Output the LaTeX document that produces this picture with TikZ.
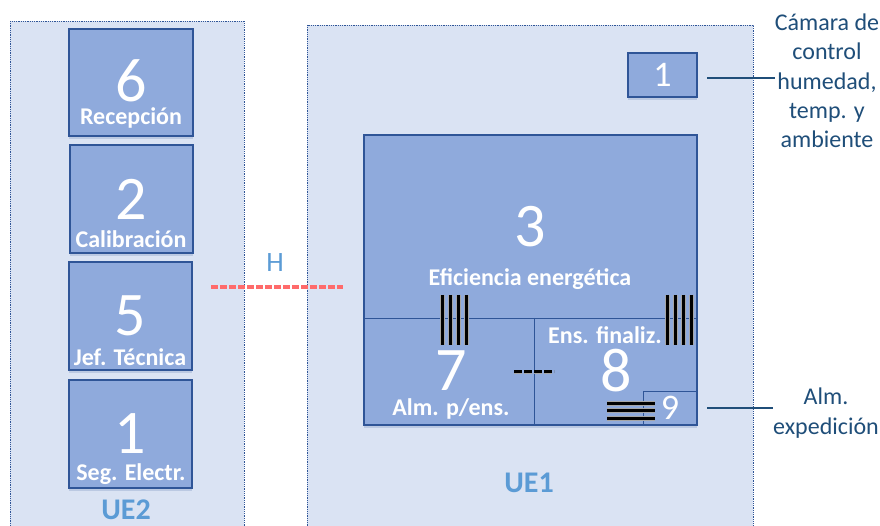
\documentclass[tikz,border=0pt]{standalone}
\usepackage{fontspec}
\setmainfont{Carlito}
\usetikzlibrary{shadows}
\definecolor{zonefill}{HTML}{DAE3F3}
\definecolor{roomfill}{HTML}{8FAADC}
\definecolor{roomline}{HTML}{2F5597}
\definecolor{notetext}{HTML}{1F4E79}
\definecolor{zonetext}{HTML}{5B9BD5}
\definecolor{wallred}{HTML}{FF6B6B}
\tikzset{
  zone/.style={draw=roomline,fill=zonefill,densely dotted,line width=0.8pt},
  room/.style={draw=roomline,fill=roomfill,line width=1.2pt,drop shadow={shadow xshift=0pt,shadow yshift=-3pt,fill=roomline,opacity=0.18}},
  roomnum/.style={text=white,inner sep=0pt,font=\fontsize{62}{62}\selectfont},
  roomname/.style={text=white,inner sep=0pt,font=\fontsize{24}{24}\selectfont\bfseries},
  zonename/.style={text=zonetext,inner sep=0pt,font=\fontsize{30}{30}\selectfont\bfseries},
  note/.style={text=notetext,align=center,inner sep=0pt,font=\fontsize{24}{29.3}\selectfont},
  bar/.style={line width=3pt,black},
  halo/.style={line width=4.6pt,black!35}
}
\begin{document}
\begin{tikzpicture}[x=1pt,y=-1pt]
  \useasboundingbox (0,0) rectangle (880,526);
  \begin{scope}
    \clip (0,0) rectangle (880,526);
    \draw [zone] (10,21) rectangle (244,540);
    \draw [zone] (307,25) rectangle (753,540);
  \end{scope}

  % left column
  \draw [room] (69,29) rectangle (193,136);
  \draw [room] (70,145) rectangle (193,253);
  \draw [room] (69,262) rectangle (192,370);
  \draw [room] (69,380) rectangle (192,488);
  \node [roomnum] (n6) at (131,81) {6};
  \node [roomname] (recep) at (131,118) {Recepción};
  \node [roomnum] (n2) at (131,199) {2};
  \node [roomname] (calib) at (131,239) {Calibración};
  \node [roomnum] (n5) at (130,316) {5};
  \node [roomname] (jef) at (130,357) {Jef. Técnica};
  \node [roomnum] (n1) at (130,434) {1};
  \node [roomname] (seg) at (131,474) {Seg. Electr.};
  \node [zonename] (ue2) at (126,510) {UE2};

  % wall between the units
  \node [text=zonetext,inner sep=0pt,font=\fontsize{28}{28}\selectfont] (h) at (275,263) {H};
  \coordinate (wallA) at (211,287);
  \coordinate (wallB) at (343,287);
  \draw [wallred,line width=3.2pt,dash pattern=on 7pt off 2pt] (wallA) -- (wallB);

  % right block
  \draw [room] (364,135) rectangle (697,425);
  \draw [roomline,line width=0.8pt] (364,318) -- (697,318);
  \draw [roomline,line width=0.8pt] (534,318) -- (534,425);
  \draw [roomline,line width=0.8pt] (643,425) -- (643,391) -- (697,391);
  \node [roomnum] (n3) at (530,227) {3};
  \node [roomname] (efic) at (530,279) {Eficiencia energética};
  \node [roomname] (ens) at (605,335) {Ens. finaliz.};
  \node [roomnum] (n7) at (451,371) {7};
  \node [roomname] (alm) at (451,409) {Alm. p/ens.};
  \node [roomnum] (n8) at (616,371) {8};

  % top small room
  \node [room,minimum width=69pt,minimum height=44pt,inner sep=0pt,text=white,font=\fontsize{36}{36}\selectfont] (cam) at (662.5,75) {1};
  \node [text=white,inner sep=0pt,font=\fontsize{36}{36}\selectfont] (n9) at (670,408) {9};

  % bars
  \foreach \x in {442.7,450.7,458.7,466.7}
    {
      \draw [halo] (\x,295) -- (\x,345);
      \draw [bar] (\x,295) -- (\x,345);
    }
  \foreach \x in {667.3,675.3,683.3,691.3}
    {
      \draw [halo] (\x,295) -- (\x,345);
      \draw [bar] (\x,295) -- (\x,345);
    }
  \foreach \y in {403.3,410.7,418.3}
    {
      \draw [halo] (607,\y) -- (655,\y);
      \draw [bar] (607,\y) -- (655,\y);
    }
  \draw [black!35,line width=4.4pt,dash pattern=on 8pt off 2pt] (514,371.7) -- (554,371.7);
  \draw [black,line width=2.8pt,dash pattern=on 8pt off 2pt] (514,371.7) -- (554,371.7);

  % side notes
  \node [note] (camnote) at (827,81) {Cámara de\\control\\humedad,\\temp. y\\ambiente};
  \node [note] (almnote) at (826,413) {Alm.\\expedición};
  \coordinate (camtap) at (697,78);
  \coordinate (roomnine) at (697,408);
  \draw [notetext,line width=1.2pt,shorten <=10pt] (camtap) -- (camnote.west |- camtap);
  \draw [notetext,line width=1.2pt,shorten <=10pt] (roomnine) -- (almnote.west |- roomnine);

  \node [zonename] (ue1) at (529,483) {UE1};
\end{tikzpicture}
\end{document}
